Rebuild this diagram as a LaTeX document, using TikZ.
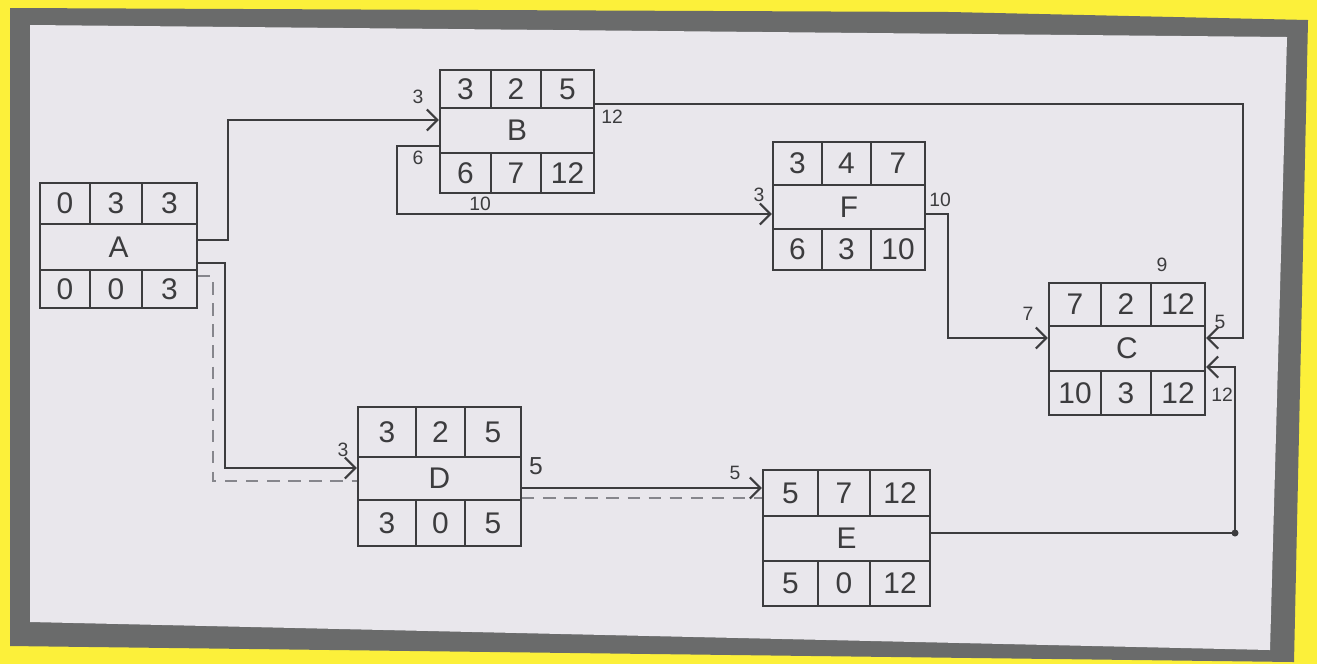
\documentclass[tikz,border=0pt]{standalone}
\usepackage{fontspec}
\setmainfont{Liberation Sans}
\usetikzlibrary{arrows.meta,calc,fit}
\definecolor{bgyellow}{HTML}{FCF03A}
\definecolor{framegray}{HTML}{6A6B6B}
\definecolor{paper}{HTML}{E9E7EC}
\definecolor{ink}{HTML}{3C3C3E}
\definecolor{pencil}{HTML}{86868C}
\tikzset{
  boxline/.style={draw=ink, line width=1.3pt},
  conn/.style={draw=ink, line width=1.2pt, -{Straight Barb[length=6pt,width=12pt]}},
  plainline/.style={draw=ink, line width=1.2pt},
  dashconn/.style={draw=pencil, line width=1.1pt, dash pattern=on 7pt off 5pt},
  cell/.style={font=\fontsize{17}{17}\selectfont, text=ink, inner sep=0pt},
  tag/.style={font=\fontsize{11}{11}\selectfont, text=ink, inner sep=0pt},
}
% #1 name, #2 x1, #3 y1, #4 x2, #5 y2, #6 row1, #7 row2, #8 col1, #9 col2
\newcommand\actbox[9]{%
  \node[fit={(#2,#3) (#4,#5)}, inner sep=0pt, boxline] (#1) {};
  \draw[boxline] (#2,#6) -- (#4,#6) (#2,#7) -- (#4,#7)
    (#8,#3) -- (#8,#6) (#9,#3) -- (#9,#6) (#8,#7) -- (#8,#5) (#9,#7) -- (#9,#5);
  \coordinate (#1-t1) at ($(#2,#3)!.5!(#8,#6)$);
  \coordinate (#1-t2) at ($(#8,#3)!.5!(#9,#6)$);
  \coordinate (#1-t3) at ($(#9,#3)!.5!(#4,#6)$);
  \coordinate (#1-m)  at ($(#2,#6)!.5!(#4,#7)$);
  \coordinate (#1-b1) at ($(#2,#7)!.5!(#8,#5)$);
  \coordinate (#1-b2) at ($(#8,#7)!.5!(#9,#5)$);
  \coordinate (#1-b3) at ($(#9,#7)!.5!(#4,#5)$);
}
% #1 name, #2 letter, #3-#5 top, #6-#8 bottom
\newcommand\actlabels[8]{%
  \node[cell] (#1-T1) at (#1-t1) {#3};
  \node[cell] (#1-T2) at (#1-t2) {#4};
  \node[cell] (#1-T3) at (#1-t3) {#5};
  \node[cell] (#1-L)  at (#1-m)  {#2};
  \node[cell] (#1-B1) at (#1-b1) {#6};
  \node[cell] (#1-B2) at (#1-b2) {#7};
  \node[cell] (#1-B3) at (#1-b3) {#8};
}
\begin{document}
\begin{tikzpicture}[x=0.02cm, y=-0.02cm]
  % background, frame and paper
  \fill[bgyellow] (0,0) rectangle (1317,664);
  \useasboundingbox (0,0) rectangle (1317,664);
  \fill[framegray] (10,8) -- (950,12) -- (1308,20) -- (1294,662) -- (10,646) -- cycle;
  \fill[paper] (30,25) -- (1287,37) -- (1270,650) -- (30,622) -- cycle;

  % activity boxes
  \actbox{A}{40}{183}{197}{308}{224}{270}{90}{142}
  \actlabels{A}{A}{0}{3}{3}{0}{0}{3}
  \actbox{B}{440}{70}{594}{193}{108}{153}{491}{541}
  \actlabels{B}{B}{3}{2}{5}{6}{7}{12}
  \actbox{F}{773}{142}{925}{270}{185}{229}{822}{871}
  \actlabels{F}{F}{3}{4}{7}{6}{3}{10}
  \actbox{C}{1049}{283}{1205}{415}{326}{371}{1101}{1151}
  \actlabels{C}{C}{7}{2}{12}{10}{3}{12}
  \actbox{D}{358}{407}{521}{546}{457}{500}{416}{465}
  \actlabels{D}{D}{3}{2}{5}{3}{0}{5}
  \actbox{E}{763}{470}{930}{606}{516}{561}{818}{870}
  \actlabels{E}{E}{5}{7}{12}{5}{0}{12}

  % connectors
  \coordinate (ab) at (228,240);
  \draw[conn] (A.east |- ab) -- (ab) |- (B.west |- 0,120);
  \coordinate (ad) at (225,263);
  \draw[conn] (A.east |- ad) -- (ad) |- (D.west |- 0,468);
  \draw[dashconn] (A.east |- 0,276) -- (213,276) -- (213,481) -- (D.west |- 0,481);
  \coordinate (bf) at (397,146);
  \draw[conn] (B.west |- bf) -- (bf) |- (F.west |- 0,214);
  \coordinate (bc) at (1243,104);
  \draw[conn] (B.east |- bc) -- (bc) |- (C.east |- 0,338);
  \coordinate (fc) at (948,214);
  \draw[conn] (F.east |- fc) -- (fc) |- (C.west |- 0,338);
  \draw[conn] (D.east |- 0,488) -- (E.west |- 0,488);
  \draw[dashconn] (D.east |- 0,498) -- (E.west |- 0,498);
  \coordinate (ec) at (1235,533);
  \draw[conn] (E.east |- ec) -- (ec) |- (C.east |- 0,367);
  \fill[ink] (ec) circle (3.5);

  % small labels
  \node[tag] (lb1) at (418,97) {3};
  \node[tag] (lb2) at (612,117) {12};
  \node[tag] (lb3) at (418,158) {6};
  \node[tag] (lb4) at (480,204) {10};
  \node[tag] (lf1) at (759,195) {3};
  \node[tag] (lf2) at (940,200) {10};
  \node[tag] (lc1) at (1162,265) {9};
  \node[tag] (lc2) at (1028,314) {7};
  \node[tag] (lc3) at (1220,322) {5};
  \node[tag] (lc4) at (1222,395) {12};
  \node[tag] (ld1) at (343,450) {3};
  \node[tag, font=\fontsize{14}{14}\selectfont] (ld2) at (536,466) {5};
  \node[tag] (le1) at (735,473) {5};
\end{tikzpicture}
\end{document}
